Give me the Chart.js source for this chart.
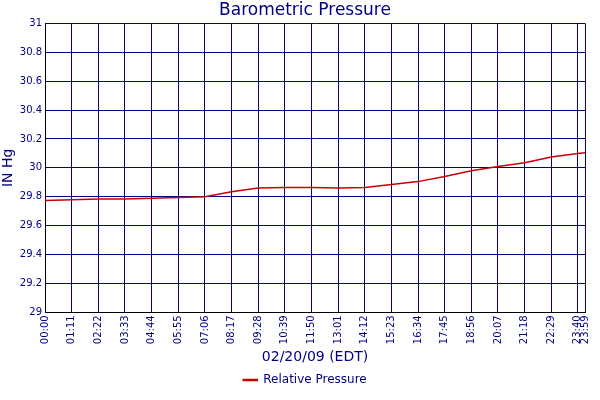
<!DOCTYPE html><html><head><script src="https://cdn.jsdelivr.net/npm/chart.js@4"></script>
<style>body{margin:0;background:#fff}#w{width:600px;height:400px}</style></head><body><div id="w"><canvas id="c"></canvas></div>
<script>
const minutes=[0,71,142,213,284,355,426,497,568,639,710,781,852,923,994,1065,1136,1207,1278,1349,1420,1439];
const pressure=[29.775,29.78,29.785,29.785,29.79,29.795,29.80,29.835,29.86,29.865,29.865,29.86,29.865,29.885,29.905,29.94,29.98,30.01,30.035,30.075,30.10,30.105];
const tickMinutes=[0,71,142,213,284,355,426,497,568,639,710,781,852,923,994,1065,1136,1207,1278,1349,1420,1439];
const fmt=m=>String(Math.floor(m/60)).padStart(2,'0')+':'+String(m%60).padStart(2,'0');
const navy='#000080',font='DejaVu Sans';
new Chart(document.getElementById('c'),{type:'line',
data:{datasets:[{label:'Relative Pressure',data:minutes.map((m,i)=>({x:m,y:pressure[i]})),borderColor:'#cc0000',backgroundColor:'#cc0000',borderWidth:1.5,pointRadius:0,tension:0}]},
options:{responsive:true,maintainAspectRatio:false,animation:false,layout:{padding:{right:-10,left:0,top:0,bottom:4}},
plugins:{title:{display:true,text:'Barometric Pressure',color:navy,font:{family:font,size:17,weight:'normal'},padding:{top:0,bottom:3}},
legend:{position:'bottom',labels:{color:navy,font:{family:font,size:12},boxWidth:14,boxHeight:1,padding:2}}},
scales:{x:{type:'linear',min:0,max:1439,afterBuildTicks:a=>{a.ticks=tickMinutes.map(v=>({value:v}))},
ticks:{autoSkip:false,maxRotation:90,minRotation:90,color:navy,font:{family:font,size:10},padding:3,callback:v=>fmt(v)},
grid:{color:navy,drawTicks:false},border:{color:'#000'},
title:{display:true,text:'02/20/09 (EDT)',color:navy,font:{family:font,size:14},padding:{top:2,bottom:6}}},
y:{min:29,max:31,ticks:{stepSize:0.2,color:navy,font:{family:font,size:10},padding:3,callback:v=>String(Math.round(v*10)/10)},grid:{color:navy,drawTicks:false},border:{color:'#000'},
title:{display:true,text:'IN Hg',color:navy,font:{family:font,size:14},padding:{bottom:0,top:0}}}}}});
</script></body></html>
